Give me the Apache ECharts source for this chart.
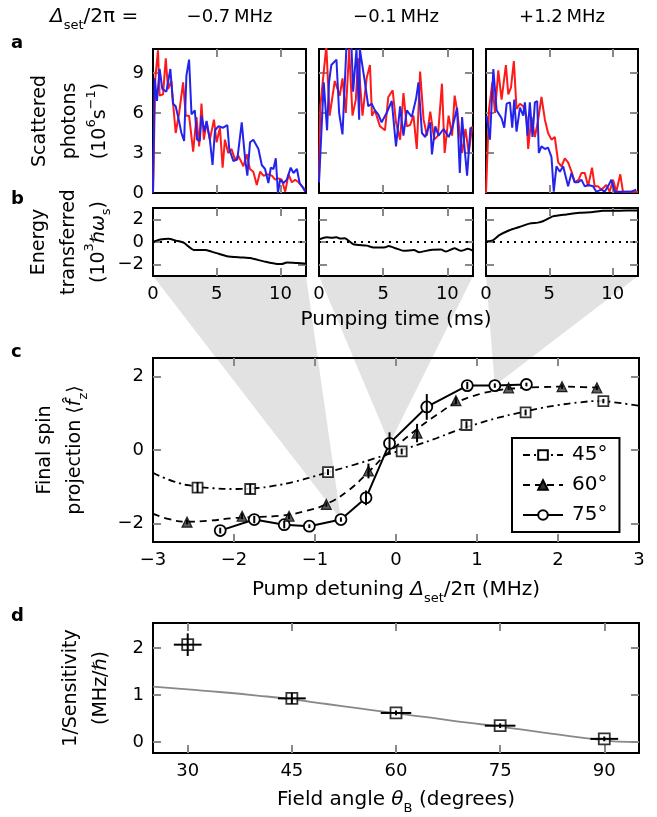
<!DOCTYPE html>
<html style="height: 100%">
<head>
    <meta charset="utf-8">
    <script src="https://cdn.jsdelivr.net/npm/echarts@6/dist/echarts.min.js"></script>
</head>
<body style="height: 100%; margin: 0; background: #fff">
    <div id="main" style="width: 657px; height: 817px"></div>
    <script type="text/javascript">
    // ---- data ----
    var shownDetunings = [-0.7, -0.1, 1.2];   // MHz, panels a/b columns

    // a: scattered photons (10^6 s^-1) vs pumping time (ms)
    var redA1 = [[0,0],[0.18,8.6],[0.39,10.7],[0.52,7.3],[0.79,7.4],[1.0,10.1],[1.18,7.8],[1.44,8.4],[1.57,6.8],[1.78,4.5],[2.05,6.0],[2.36,8.3],[2.57,5.8],[2.83,5.8],[3.15,3.1],[3.41,5.7],[3.62,3.5],[3.8,6.7],[3.99,4.0],[4.2,5.3],[4.46,4.0],[4.78,5.5],[4.99,3.8],[5.25,4.9],[5.46,1.9],[5.64,4.0],[5.9,3.0],[6.16,3.3],[6.43,2.5],[6.69,2.8],[7.09,2.0],[7.35,2.9],[7.6,1.8],[7.87,1.6],[8.14,0.6],[8.4,1.6],[8.66,1.3],[9.05,1.4],[9.32,1.3],[9.58,1.0],[9.84,1.1],[10.1,1.0],[10.37,0.1],[10.63,1.4],[10.89,0.8],[11.15,1.0],[11.42,0.8],[11.68,0.5],[11.94,0.25]];
    var blueA1 = [[0,0],[0.13,8.6],[0.31,6.9],[0.52,9.3],[0.73,7.8],[1.05,7.6],[1.36,9.3],[1.57,6.7],[1.78,6.5],[1.97,5.7],[2.23,4.5],[2.44,3.9],[2.62,8.8],[2.83,10.0],[3.02,5.9],[3.28,6.2],[3.46,4.0],[3.67,3.9],[3.8,5.8],[4.04,4.6],[4.2,5.4],[4.46,4.0],[4.67,2.1],[4.86,4.7],[5.12,5.0],[5.51,4.9],[5.83,5.1],[5.98,3.3],[6.3,2.4],[6.61,2.5],[6.96,5.3],[7.22,2.6],[7.4,1.3],[7.61,3.8],[7.87,4.0],[8.27,3.3],[8.53,2.1],[8.79,1.8],[9.05,0.75],[9.24,1.9],[9.45,1.8],[9.63,2.6],[9.8,0],[9.97,1.0],[10.24,0.75],[10.5,1.0],[10.8,1.9],[11.02,1.5],[11.29,1.8],[11.5,0.75],[11.76,0.4],[11.94,0.1]];
    var redA2 = [[0,1.0],[0.1,6.5],[0.57,11],[0.83,5.8],[1.23,8.4],[1.62,7.3],[1.83,8.6],[2.09,6.0],[2.35,10.8],[2.61,5.8],[2.87,7.0],[3.05,10.1],[3.39,5.8],[3.71,8.6],[3.97,9.6],[4.13,5.8],[4.36,6.2],[4.75,5.0],[5.14,4.7],[5.4,7.2],[5.74,7.7],[6.0,5.3],[6.32,4.0],[6.58,7.5],[6.84,5.0],[7.1,5.1],[7.36,5.8],[7.62,3.3],[7.88,9.1],[8.15,5.5],[8.41,4.3],[8.67,6.1],[8.98,4.0],[9.27,4.3],[9.58,8.2],[9.79,3.0],[10.1,5.8],[10.37,4.3],[10.57,7.3],[10.76,6.2],[11.15,3.0],[11.41,4.8],[11.67,3.0],[11.93,5.0]];
    var blueA2 = [[0,0.8],[0.37,8.3],[0.63,4.7],[0.78,8.3],[0.96,9.6],[1.36,10.0],[1.57,6.0],[1.83,4.4],[2.14,11],[2.53,11],[2.66,7.6],[2.92,10.8],[3.13,5.5],[3.18,10.8],[3.58,8.3],[3.84,6.5],[4.1,6.7],[4.36,6.2],[4.62,5.9],[4.88,5.3],[5.27,6.0],[5.67,6.9],[6.0,3.5],[6.32,6.5],[6.58,4.3],[6.84,6.2],[7.23,5.7],[7.57,7.1],[7.75,8.3],[8.02,4.5],[8.28,4.2],[8.67,5.3],[8.8,2.9],[9.06,5.0],[9.32,4.3],[9.71,4.8],[10.1,4.2],[10.37,4.8],[10.76,6.4],[10.97,1.5],[11.15,5.7],[11.33,3.5],[11.54,1.3],[11.8,4.9],[11.93,4.8]];
    var redA3 = [[0,0],[0.24,6.3],[0.5,8.3],[0.71,6.0],[0.97,9.2],[1.23,7.0],[1.57,9.6],[1.76,7.4],[1.97,7.9],[2.2,9.9],[2.41,6.3],[2.68,6.7],[2.94,6.5],[3.2,5.7],[3.33,3.3],[3.59,5.7],[3.86,4.2],[4.12,5.5],[4.38,7.2],[4.65,5.5],[4.9,4.5],[5.17,4.0],[5.43,4.2],[5.7,2.3],[5.96,2.0],[6.22,2.6],[6.48,2.3],[6.75,1.6],[7.01,0.8],[7.32,1.0],[7.53,1.5],[7.8,1.5],[8.06,0.5],[8.37,1.9],[8.58,0.5],[8.85,0.5],[9.11,0.25],[9.5,0.6],[9.76,0.1],[10.03,1.0],[10.29,0.1],[10.6,1.4],[10.81,0.1],[11.2,0.1],[11.6,0.1],[12,0.1]];
    var blueA3 = [[0.05,5.8],[0.31,4.0],[0.58,9.3],[0.84,6.2],[1.23,5.6],[1.44,4.9],[1.63,6.7],[1.89,6.8],[2.07,4.9],[2.23,7.0],[2.41,4.6],[2.68,6.4],[2.94,5.8],[3.07,6.8],[3.28,4.3],[3.46,6.8],[3.67,4.2],[3.86,6.8],[4.04,6.9],[4.17,3.0],[4.38,3.5],[4.65,3.3],[4.9,3.4],[5.17,2.7],[5.35,0.1],[5.56,2.0],[5.83,1.6],[6.09,2.0],[6.48,0.5],[6.75,1.5],[7.01,0.8],[7.27,0.8],[7.53,1.0],[7.8,0.5],[8.06,0.6],[8.45,0.5],[8.71,0.1],[9.11,0.25],[9.37,0.1],[9.63,0.5],[9.9,1.0],[10.16,0.1],[10.55,0.1],[10.94,0.1],[11.46,0.1],[11.86,0.25]];

    // b: energy transferred (10^3 hbar omega_s)
    var energyB1 = [[0,0.03],[0.58,0.23],[1.23,0.29],[1.8,0.12],[2.4,-0.06],[3.2,-0.7],[4.1,-0.7],[4.6,-0.85],[5.15,-1.04],[5.8,-1.25],[6.85,-1.36],[7.63,-1.42],[8.68,-1.71],[9.73,-1.94],[10.1,-1.94],[10.5,-1.8],[11.3,-1.85],[12,-1.91]];
    var energyB2 = [[0,0.23],[0.58,0.43],[1.0,0.38],[1.36,0.43],[1.65,0.3],[2.0,0.32],[2.68,-0.2],[3.73,-0.32],[4.25,-0.49],[5.17,-0.46],[5.43,-0.35],[5.96,-0.55],[6.6,-0.78],[7.4,-0.7],[7.8,-0.9],[8.7,-0.7],[9.5,-0.67],[9.9,-0.84],[10.55,-0.55],[11.08,-0.78],[11.6,-0.6],[12,-0.78]];
    var energyB3 = [[0,0.05],[0.53,0.14],[1.05,0.6],[1.85,1.04],[2.64,1.33],[3.43,1.62],[4.09,1.71],[4.49,1.83],[5.28,2.26],[6.33,2.43],[7.39,2.58],[8.44,2.64],[9.23,2.75],[10.0,2.75],[11.1,2.78],[12,2.78]];

    // c: final spin projection vs pump detuning (MHz)
    var spin45 = [[-2.45,-1.02],[-1.80,-1.06],[-0.84,-0.60],[0.07,-0.04],[0.87,0.68],[1.60,1.02],[2.56,1.33]];
    var spin45Err = [0.15,0.14,0.08,0.08,0.1,0.08,0.06];
    var spin45Fit = [[-3,-0.62],[-2.75,-0.85],[-2.5,-0.98],[-2.25,-1.04],[-2,-1.06],[-1.75,-1.04],[-1.5,-0.97],[-1.25,-0.86],[-1,-0.71],[-0.75,-0.55],[-0.5,-0.39],[-0.25,-0.22],[0,-0.05],[0.25,0.13],[0.5,0.32],[0.75,0.53],[1,0.71],[1.25,0.87],[1.5,1.0],[1.75,1.12],[2,1.22],[2.25,1.29],[2.5,1.33],[2.75,1.28],[3,1.2]];
    var spin60 = [[-2.58,-1.96],[-1.90,-1.80],[-1.32,-1.80],[-0.86,-1.48],[-0.34,-0.57],[0.26,0.46],[0.74,1.34],[1.39,1.69],[2.05,1.72],[2.48,1.69]];
    var spin60Err = [0.06,0.08,0.08,0.06,0.2,0.25,0.1,0.05,0.06,0.06];
    var spin60Fit = [[-3,-1.73],[-2.8,-1.88],[-2.58,-1.95],[-2.3,-1.92],[-2,-1.85],[-1.7,-1.82],[-1.4,-1.78],[-1.1,-1.65],[-0.86,-1.47],[-0.6,-1.12],[-0.34,-0.6],[-0.15,-0.18],[0,0.1],[0.25,0.55],[0.5,0.95],[0.74,1.28],[1.0,1.5],[1.25,1.62],[1.5,1.68],[1.8,1.71],[2.05,1.72],[2.3,1.71],[2.5,1.69]];
    var spin75 = [[-2.17,-2.19],[-1.75,-1.89],[-1.38,-2.03],[-1.07,-2.07],[-0.68,-1.89],[-0.37,-1.30],[-0.08,0.18],[0.38,1.17],[0.88,1.75],[1.22,1.75],[1.61,1.78]];
    var spin75Err = [0.08,0.1,0.1,0.05,0.06,0.2,0.3,0.35,0.1,0.06,0.05];

    // d: 1/sensitivity vs field angle
    var sensPts = [[30,2.07],[45,0.93],[60,0.62],[75,0.35],[90,0.07]];
    var sensXErr = [2.0,2.0,2.2,2.2,2.0];
    var sensYErr = [0.24,0.12,0.05,0.05,0.05];
    var sensFit = [[25,1.18],[30,1.12],[35,1.06],[40,0.99],[45,0.91],[50,0.81],[55,0.71],[60,0.61],[65,0.52],[70,0.42],[75,0.33],[80,0.23],[85,0.13],[90,0.04],[92,0.01],[95,0]];

    // tick labels
    var timeTicks = [0, 5, 10];
    var photonTicks = [0, 3, 6, 9];
    var energyTicks = [-2, 0, 2];
    var detuningTicks = [-3, -2, -1, 0, 1, 2, 3];
    var spinTicks = [-2, 0, 2];
    var angleTicks = [30, 45, 60, 75, 90];
    var sensTicks = [0, 1, 2];

    // ---- chart ----
    var chartDom = document.getElementById('main');
    var myChart = echarts.init(chartDom);
    var FONT = 'DejaVu Sans';

    function richSet(size) {
        var base = { fontFamily: FONT, fontWeight: 'normal', color: '#000' };
        return {
            t: Object.assign({ fontSize: size, lineHeight: 30 }, base),
            i: Object.assign({ fontSize: size, lineHeight: 30, fontStyle: 'italic' }, base),
            sub: Object.assign({ fontSize: 13, lineHeight: 22, verticalAlign: 'bottom' }, base),
            sup: Object.assign({ fontSize: 13, lineHeight: 14, verticalAlign: 'top' }, base)
        };
    }
    var rich = richSet(19);
    var richX = richSet(20);
    var richH = richSet(18);

    var grids = [
        { left: 153, top: 49, width: 153, height: 144 },
        { left: 319, top: 49, width: 154, height: 144 },
        { left: 486, top: 49, width: 152, height: 144 },
        { left: 153, top: 208, width: 153, height: 68 },
        { left: 319, top: 208, width: 154, height: 68 },
        { left: 486, top: 208, width: 152, height: 68 },
        { left: 153, top: 358, width: 486, height: 184 },
        { left: 153, top: 623, width: 486, height: 130 }
    ].map(function (g) {
        return Object.assign({ show: true, borderColor: '#000', borderWidth: 2, backgroundColor: 'transparent' }, g);
    });

    function fmtHeader(v) {
        return (v < 0 ? '\u2212' : '+') + Math.abs(v).toFixed(1) + '\u2009MHz';
    }

    var timeExt = [0, 12], photonExt = [0, 10.8], energyExt = [-3, 3];
    var axisSpec = [
        { x: timeExt, xt: timeTicks, y: photonExt, yt: photonTicks, yl: true, top: fmtHeader(shownDetunings[0]),
          yname: '{t|Scattered}\n{t|photons}\n{t|(10}{sup|6}{t|s}{sup|\u22121}{t|)}', ygap: 38 },
        { x: timeExt, xt: timeTicks, y: photonExt, yt: photonTicks, top: fmtHeader(shownDetunings[1]) },
        { x: timeExt, xt: timeTicks, y: photonExt, yt: photonTicks, top: fmtHeader(shownDetunings[2]) },
        { x: timeExt, xt: timeTicks, xl: true, y: energyExt, yt: energyTicks, yl: true,
          yname: '{t|Energy}\n{t|transferred}\n{t|(10}{sup|3}{i|\u210F\u03C9}{sub|s}{t|)}', ygap: 38 },
        { x: timeExt, xt: timeTicks, xl: true, y: energyExt, yt: energyTicks,
          xname: '{t|Pumping time (ms)}', xgap: 29 },
        { x: timeExt, xt: timeTicks, xl: true, y: energyExt, yt: energyTicks },
        { x: [-3, 3], xt: detuningTicks, xl: true, y: [-2.5, 2.5], yt: spinTicks, yl: true,
          xname: '{t|Pump detuning }{i|\u0394}{sub|set}{t|/2\u03C0 (MHz)}', xgap: 33,
          yname: '{t|Final spin}\n{t|projection \u27E8}{i|f\u0302}{sub|z}{t|\u27E9}', ygap: 63 },
        { x: [25, 95], xt: angleTicks, xl: true, y: [-0.23, 2.53], yt: sensTicks, yl: true,
          xname: '{t|Field angle }{i|\u03B8}{sub|B}{t| (degrees)}', xgap: 32,
          yname: '{t|1/Sensitivity}\n{t|(MHz/}{i|\u210F}{t|)}', ygap: 37 }
    ];

    function inner(vals, ext) {
        return vals.filter(function (v) { return v > ext[0] + 1e-9 && v < ext[1] - 1e-9; });
    }
    function minus(v) { return String(v).replace('-', '\u2212'); }

    var xAxes = [], yAxes = [];
    axisSpec.forEach(function (s, gi) {
        function ax(ext, ticks, labels, pos) {
            return {
                type: 'value', gridIndex: gi, position: pos, min: ext[0], max: ext[1],
                axisLine: { show: false, onZero: false }, splitLine: { show: false },
                axisTick: { show: true, inside: true, length: 8, customValues: inner(ticks, ext),
                            lineStyle: { color: '#888', width: 2 } },
                axisLabel: { show: !!labels, customValues: ticks, formatter: minus, margin: 9,
                             color: '#000', fontFamily: FONT, fontSize: 18 },
                nameLocation: 'middle', nameTextStyle: { rich: rich }
            };
        }
        var xb = ax(s.x, s.xt, s.xl, 'bottom');
        if (s.xname) { xb.name = s.xname; xb.nameGap = s.xgap; xb.nameTextStyle = { rich: richX }; }
        var xt = ax(s.x, s.xt, false, 'top');
        if (s.top) { xt.name = '{t|' + s.top + '}'; xt.nameGap = 17; xt.nameTextStyle = { rich: richH }; }
        var yl = ax(s.y, s.yt, s.yl, 'left');
        if (s.yname) { yl.name = s.yname; yl.nameGap = s.ygap; yl.nameRotate = 90; }
        var yr = ax(s.y, s.yt, false, 'right');
        xAxes.push(xb, xt);
        yAxes.push(yl, yr);
    });

    function onGrid(gi, obj) {
        obj.xAxisIndex = 2 * gi;
        obj.yAxisIndex = 2 * gi;
        return obj;
    }

    var series = [];
    [[redA1, blueA1], [redA2, blueA2], [redA3, blueA3]].forEach(function (pair, k) {
        series.push(onGrid(k, { type: 'line', data: pair[0], symbol: 'none', z: 2,
            lineStyle: { color: '#ff1a1a', width: 2 }, silent: true }));
        series.push(onGrid(k, { type: 'line', data: pair[1], symbol: 'none', z: 3,
            lineStyle: { color: '#2323ee', width: 2 }, silent: true }));
    });
    [energyB1, energyB2, energyB3].forEach(function (d, k) {
        series.push(onGrid(3 + k, { type: 'line', data: d, symbol: 'none', smooth: 0.2,
            lineStyle: { color: '#000', width: 2 }, silent: true,
            markLine: { silent: true, symbol: 'none', label: { show: false },
                        lineStyle: { color: '#000', width: 2, type: [2, 5] },
                        data: [{ yAxis: 0 }] } }));
    });

    function errBars(gi, pts, xe, ye) {
        return onGrid(gi, {
            type: 'custom', z: 6, silent: true,
            data: pts.map(function (p, k) { return [p[0], p[1], xe ? xe[k] : 0, ye ? ye[k] : 0]; }),
            renderItem: function (params, api) {
                var x = api.value(0), y = api.value(1), dx = api.value(2), dy = api.value(3);
                var kids = [];
                var st = { stroke: '#000', lineWidth: 2 };
                if (dy) {
                    var a = api.coord([x, y - dy]), b = api.coord([x, y + dy]);
                    kids.push({ type: 'line', shape: { x1: a[0], y1: a[1], x2: b[0], y2: b[1] }, style: st });
                }
                if (dx) {
                    var c = api.coord([x - dx, y]), d = api.coord([x + dx, y]);
                    kids.push({ type: 'line', shape: { x1: c[0], y1: c[1], x2: d[0], y2: d[1] }, style: st });
                }
                return { type: 'group', children: kids };
            }
        });
    }

    var hollow = { color: '#fff', borderColor: '#000', borderWidth: 1.8 };
    var solidTri = { color: '#333', borderColor: '#000', borderWidth: 1.2 };
    // panel c
    series.push(onGrid(6, { name: '45\u00B0', type: 'line', data: spin45Fit, smooth: true,
        symbol: 'rect', symbolSize: 10, showSymbol: false, itemStyle: hollow,
        lineStyle: { color: '#000', width: 1.8, type: [7, 4, 2, 4] }, silent: true }));
    series.push(onGrid(6, { name: '60\u00B0', type: 'line', data: spin60Fit, smooth: true,
        symbol: 'triangle', symbolSize: 10, showSymbol: false, itemStyle: solidTri,
        lineStyle: { color: '#000', width: 1.8, type: [7, 5] }, silent: true }));
    series.push(onGrid(6, { name: '75\u00B0', type: 'line', data: spin75,
        symbol: 'circle', symbolSize: 11, showSymbol: true, itemStyle: hollow, z: 4,
        lineStyle: { color: '#000', width: 2 }, silent: true }));
    series.push(onGrid(6, { type: 'scatter', data: spin45, symbol: 'rect', symbolSize: 10,
        itemStyle: hollow, z: 4, silent: true }));
    series.push(onGrid(6, { type: 'scatter', data: spin60, symbol: 'triangle', symbolSize: 10,
        itemStyle: solidTri, z: 4, silent: true }));
    series.push(errBars(6, spin45, null, spin45Err));
    series.push(errBars(6, spin60, null, spin60Err));
    series.push(errBars(6, spin75, null, spin75Err));

    // panel d
    series.push(onGrid(7, { type: 'line', data: sensFit, smooth: true, symbol: 'none',
        lineStyle: { color: '#888', width: 1.8 }, silent: true }));
    series.push(onGrid(7, { type: 'scatter', data: sensPts, symbol: 'rect', symbolSize: 11,
        itemStyle: hollow, z: 4, silent: true }));
    series.push(errBars(7, sensPts, sensXErr, sensYErr));

    var letter = function (txt, top) {
        return { text: txt, left: 11, top: top, padding: 0,
                 textStyle: { fontFamily: FONT, fontSize: 18, fontWeight: 'bold', color: '#000' } };
    };

    var option = {
        animation: false,
        backgroundColor: '#fff',
        title: [
            { text: '{i|\u0394}{sub|set}{t|/2\u03C0 = }', left: 50, top: 2, padding: 0,
              textStyle: { fontWeight: 'normal', rich: richSet(20) } },
            letter('a', 34), letter('b', 190), letter('c', 343), letter('d', 607)
        ],
        legend: {
            data: ['45\u00B0', '60\u00B0', '75\u00B0'],
            orient: 'vertical', left: 512, top: 438,
            itemWidth: 40, itemHeight: 12, itemGap: 10,
            padding: [7, 12, 7, 10],
            backgroundColor: '#fff', borderColor: '#000', borderWidth: 2, borderRadius: 0,
            textStyle: { fontFamily: FONT, fontSize: 20, color: '#000', padding: [0, 0, 0, 4] },
            selectedMode: false
        },
        grid: grids,
        xAxis: xAxes,
        yAxis: yAxes,
        series: series
    };
    myChart.setOption(option);

    // grey wedges linking each b column to its point in c
    function nearestIdx(v) {
        var best = 0;
        spin75.forEach(function (p, k) {
            if (Math.abs(p[0] - v) < Math.abs(spin75[best][0] - v)) best = k;
        });
        return best;
    }
    var wedges = shownDetunings.map(function (v, k) {
        var gi = 3 + k;
        var bl = myChart.convertToPixel({ xAxisIndex: 2 * gi, yAxisIndex: 2 * gi }, [timeExt[0], energyExt[0]]);
        var br = myChart.convertToPixel({ xAxisIndex: 2 * gi, yAxisIndex: 2 * gi }, [timeExt[1], energyExt[0]]);
        var tip = myChart.convertToPixel({ xAxisIndex: 12, yAxisIndex: 12 }, spin75[nearestIdx(v)]);
        return { type: 'polygon', z: -1, silent: true,
                 shape: { points: [bl, br, tip] }, style: { fill: '#e2e2e2' } };
    });
    myChart.setOption({ graphic: wedges });
    </script>
</body>
</html>
